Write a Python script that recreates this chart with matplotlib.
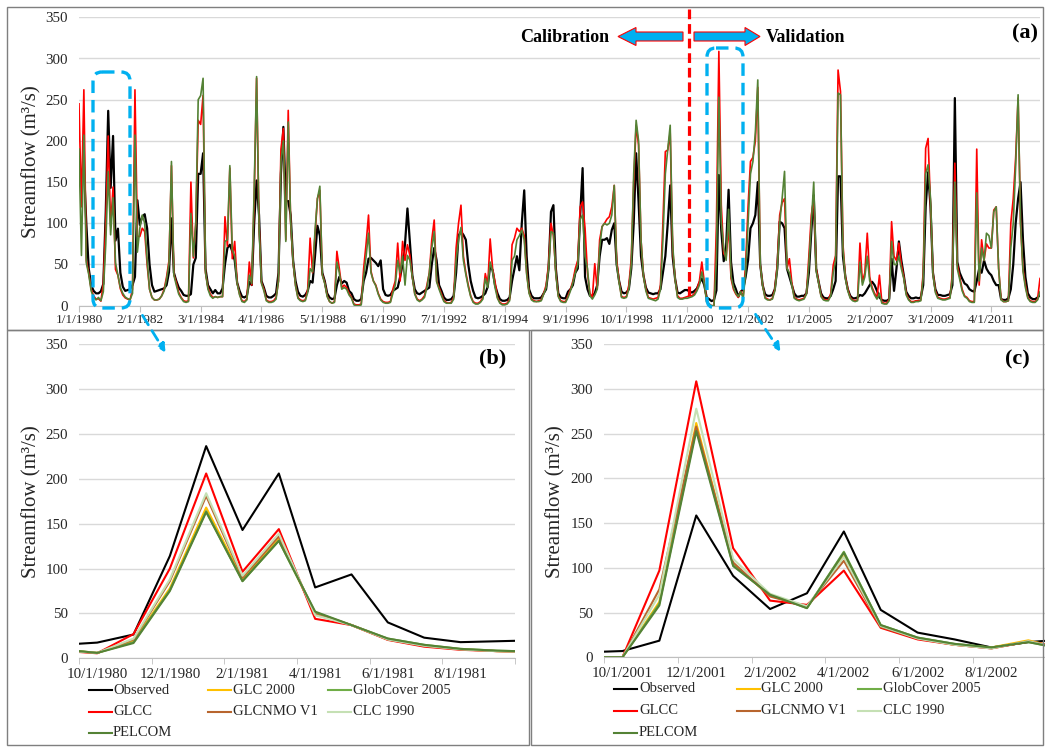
import matplotlib
matplotlib.use("Agg")
import matplotlib.pyplot as plt
import numpy as np
from matplotlib.lines import Line2D
from matplotlib.patches import FancyBboxPatch, Polygon, Rectangle, FancyArrowPatch
from matplotlib.transforms import Affine2D

plt.rcParams['font.family'] = ['Liberation Serif', 'DejaVu Serif']
plt.rcParams['lines.scale_dashes'] = False

# ---------------- data ----------------
# Panel (a): monthly streamflow Jan 1980 - Dec 2012 (one row per year)
observed = [
    165, 155, 170, 100, 45, 25, 18, 15, 15, 17.5, 26.5, 114,
    236.5, 143, 206, 79, 93.5, 40, 23, 18, 19, 20, 25, 35,
    128, 98, 108, 111, 94, 50, 25, 17, 18, 19, 20, 21,
    25, 41, 106, 40, 30, 22, 18, 13, 12, 12, 14, 50,
    58, 160, 160, 185, 45, 25, 20, 15, 19, 15, 15, 21,
    50, 70, 74, 66, 55, 28, 18, 11, 10, 12, 29, 25,
    100, 152, 110, 30, 22, 12, 10, 10, 12, 15, 40, 160,
    217, 127, 127, 110, 55, 30, 17, 12, 11, 13, 18, 30,
    28, 60, 97, 85, 40, 30, 15, 10, 8, 9, 25, 35,
    27, 30, 28, 18, 15, 8, 6, 6, 8, 30, 40, 57,
    58, 55, 52, 48, 55, 20, 13, 12, 13, 18, 20, 22,
    35, 50, 75, 118, 78, 37, 20, 15, 14, 16, 18, 20,
    22, 50, 70, 55, 25, 18, 10, 7, 7, 8, 12, 40,
    85, 90, 86, 80, 50, 30, 18, 10, 9, 10, 12, 15,
    23, 49, 43, 25, 15, 8, 6, 6, 7, 10, 30, 45,
    60, 43, 100, 140, 60, 20, 12, 9, 9, 9, 10, 15,
    20, 45, 114, 122, 45, 15, 10, 9, 9, 17, 20, 25,
    40, 45, 110, 167, 35, 20, 12, 12, 15, 25, 60, 80,
    80, 82, 75, 92, 100, 50, 30, 17, 15, 16, 20, 45,
    100, 185, 126, 60, 37, 22, 16, 15, 14, 15, 15, 20,
    40, 60, 100, 146, 60, 33, 16, 15, 17, 19, 19, 17,
    16, 18, 21, 28, 33, 25, 10, 8, 5.6, 7, 18.6, 158.6,
    91, 54, 71.6, 140.7, 53, 27.6, 20, 11, 17, 20, 35, 55,
    94, 100, 110, 150, 50, 25, 14, 12, 12, 13, 20, 45,
    102, 100, 94, 45, 35, 25, 15, 11, 11, 12, 12, 15,
    40, 90, 134, 45, 29, 15, 10, 9, 9, 12, 20, 30,
    157, 157, 60, 35, 20, 12, 9, 9, 10, 13, 12, 15,
    20, 25, 29, 25, 18, 10, 7, 6, 6, 8, 57, 18,
    45, 78, 55, 37, 17, 12, 9, 9, 10, 9, 10, 25,
    120, 162, 120, 40, 20, 13, 13, 12, 12, 13, 14, 25,
    252, 53, 40, 33, 27, 25, 20, 18, 17, 30, 45, 40,
    55, 45, 40, 37, 30, 25, 25, 8, 7, 7, 9, 20,
    50, 100, 130, 150, 80, 35, 15, 10, 8, 8, 10, 13,
]
glcc = [
    245, 120, 262, 55, 40, 20, 12, 8, 8.5, 5.6, 27, 100,
    206, 96.5, 144, 44, 37, 20.5, 13, 9.5, 8, 7, 20, 262,
    84, 84, 94, 90, 50, 20, 10, 7, 7, 8, 12, 20,
    35, 55, 170, 38, 28, 16, 10, 6, 5, 6, 150, 58,
    100, 225, 220, 255, 40, 22, 14, 10, 11, 10, 11, 11,
    108, 72, 167, 57, 78, 28, 14, 6, 5, 8, 53, 25,
    130, 276, 100, 28, 20, 7, 5, 5, 6, 10, 30, 190,
    215, 80, 237, 100, 53, 25, 10, 7, 6, 7, 20, 82,
    40, 85, 130, 140, 38, 28, 12, 5, 3, 5, 66, 45,
    22, 25, 22, 15, 10, 2, 1, 1, 2, 45, 75, 110,
    42, 30, 25, 15, 8, 5, 4, 4, 5, 20, 30, 76,
    30, 78, 55, 74, 61, 35, 15, 8, 6, 8, 12, 25,
    40, 80, 104, 30, 22, 14, 6, 4, 3, 4, 10, 70,
    100, 122, 60, 40, 25, 12, 5, 3, 3, 5, 10, 39,
    25, 81, 45, 29, 10, 4, 2, 2, 3, 8, 74, 82,
    94, 90, 94, 85, 40, 16, 8, 6, 5, 6, 7, 15,
    25, 50, 100, 85, 40, 12, 6, 5, 5, 12, 20, 30,
    45, 55, 120, 126, 94, 40, 15, 10, 51, 20, 80, 96,
    100, 105, 108, 120, 146, 55, 30, 11, 10, 11, 25, 57,
    150, 219, 195, 80, 37, 20, 10, 9, 8, 9, 10, 25,
    100, 187, 189, 210, 70, 33, 12, 9, 9, 10, 11, 12,
    12, 15, 20, 30, 53, 29, 5, 2, 0, 0, 97, 308.6,
    122, 63.4, 58.6, 97, 33, 20, 14, 10, 17.5, 11, 50, 120,
    175, 180, 200, 265, 50, 25, 10, 8, 7, 9, 20, 50,
    110, 125, 130, 45, 57, 28, 10, 8, 7, 8, 9, 15,
    60, 110, 130, 45, 29, 12, 8, 7, 7, 15, 49, 61,
    286, 260, 75, 35, 20, 10, 7, 6, 7, 76, 29, 40,
    88, 35, 22, 15, 10, 37, 4, 3, 3, 8, 102, 60,
    55, 76, 50, 35, 15, 8, 5, 5, 6, 6, 7, 40,
    191, 203, 120, 40, 18, 10, 9, 8, 8, 9, 10, 40,
    173, 50, 35, 20, 12, 10, 6, 5, 5, 190, 25, 80,
    55, 75, 70, 70, 116, 120, 45, 8, 5, 5, 6, 100,
    130, 180, 252, 100, 45, 25, 10, 6, 5, 5, 8, 33,
]
pelcom = [
    190, 61, 207, 52, 38, 18, 10, 7, 10, 6, 17, 75,
    163, 86, 131, 52, 37, 22, 15, 10.5, 8.5, 7.5, 15, 207,
    65, 94, 110, 100, 55, 20, 10, 7, 7, 8, 12, 18,
    32, 51, 175, 37, 25, 14, 9, 5, 4, 5, 112, 60,
    100, 250, 255, 276, 40, 20, 12, 9, 11, 10, 11, 11,
    78, 80, 170, 68, 60, 27, 13, 5, 4, 7, 37, 27,
    140, 278, 95, 27, 18, 6, 4, 4, 5, 8, 30, 175,
    200, 78, 223, 102, 53, 24, 9, 6, 5, 6, 16, 45,
    41, 90, 130, 145, 37, 27, 11, 5, 3, 4, 53, 40,
    20, 22, 20, 13, 9, 1, 0, 0, 1, 35, 60, 88,
    40, 30, 24, 14, 7, 4, 3, 3, 4, 15, 25, 55,
    40, 60, 25, 61, 55, 35, 14, 7, 5, 7, 10, 22,
    40, 70, 90, 29, 20, 12, 5, 3, 3, 3, 8, 55,
    80, 95, 55, 38, 23, 11, 4, 2, 2, 4, 8, 33,
    22, 53, 42, 22, 9, 3, 1, 1, 2, 6, 55, 60,
    80, 85, 92, 80, 38, 15, 7, 5, 5, 5, 6, 14,
    22, 45, 90, 88, 38, 11, 5, 4, 4, 10, 18, 28,
    40, 50, 105, 110, 60, 45, 12, 8, 13, 20, 70, 96,
    100, 98, 100, 110, 146, 50, 28, 10, 9, 10, 20, 50,
    160, 225, 200, 80, 36, 18, 9, 8, 7, 6, 8, 20,
    80, 160, 190, 219, 75, 32, 10, 8, 8, 9, 9, 10,
    11, 13, 18, 25, 41, 27, 4, 2, 0, 0, 58, 253,
    102, 70, 55, 117, 36, 22, 15, 11, 17, 9, 40, 100,
    160, 175, 210, 274, 50, 24, 9, 7, 7, 8, 18, 45,
    100, 130, 163, 45, 40, 25, 9, 7, 6, 7, 8, 14,
    50, 100, 150, 42, 28, 11, 7, 6, 6, 12, 40, 55,
    258, 256, 70, 33, 18, 9, 6, 5, 6, 53, 25, 35,
    60, 30, 20, 13, 8, 15, 3, 2, 2, 6, 78, 50,
    50, 60, 45, 33, 13, 7, 4, 4, 5, 5, 6, 35,
    160, 171, 130, 38, 16, 9, 8, 7, 7, 8, 9, 35,
    150, 45, 32, 18, 11, 9, 5, 4, 4, 137, 30, 70,
    55, 88, 85, 70, 114, 120, 45, 7, 5, 5, 6, 70,
    100, 170, 256, 100, 42, 22, 9, 5, 4, 4, 7, 17,
]
a_tick_labels = ["1/1/1980", "2/1/1982", "3/1/1984", "4/1/1986", "5/1/1988",
                 "6/1/1990", "7/1/1992", "8/1/1994", "9/1/1996", "10/1/1998",
                 "11/1/2000", "12/1/2002", "1/1/2005", "2/1/2007", "3/1/2009",
                 "4/1/2011"]

# Panels (b) and (c): Sep of year 1 .. Oct of year 2 (14 months, axis shows Oct-Sep)
b_glc2000 = [9.5, 6, 19, 78, 168, 88, 133, 50, 37, 21, 14, 10, 8, 7]
b_globcover = [10, 6, 18, 76, 164, 86, 131, 51, 37, 22, 15, 10.5, 8.5, 7.5]
b_glcnmo = [9, 6, 21, 86, 181, 90, 136, 49, 37, 21, 14, 10, 8, 7]
b_clc = [9, 6, 22, 88, 184, 92, 139, 48, 37, 21, 14, 10, 8, 7]
b_tick_labels = ["10/1/1980", "12/1/1980", "2/1/1981", "4/1/1981", "6/1/1981", "8/1/1981"]

c_glc2000 = [0, 0, 62, 262, 104, 69, 56, 113, 35, 21, 14, 11, 19, 9]
c_globcover = [0, 0, 60, 256, 103, 70, 55, 118, 36, 22, 15, 11, 17, 9]
c_glcnmo = [0, 0, 76, 258, 106, 68, 57, 108, 34, 21, 14, 10, 18, 9]
c_clc = [0, 0, 70, 278, 110, 71, 57, 112, 35, 21, 14, 10, 18, 9]
c_tick_labels = ["10/1/2001", "12/1/2001", "2/1/2002", "4/1/2002", "6/1/2002", "8/1/2002"]

series_names = ["Observed", "GLC 2000", "GlobCover 2005", "GLCC", "GLCNMO V1", "CLC 1990", "PELCOM"]
colors = {"Observed": "#000000", "GLC 2000": "#FFC000", "GlobCover 2005": "#70AD47",
          "GLCC": "#FF0000", "GLCNMO V1": "#B8652E", "CLC 1990": "#C5E0B4",
          "PELCOM": "#548235"}

B0, C0 = 8, 260   # start month index of zoom windows in the monthly record

# ---------------- figure ----------------
W, H = 1045, 747
fig = plt.figure(figsize=(W / 100, H / 100), dpi=100)
pix = Affine2D().scale(1.0 / W, -1.0 / H).translate(0, 1) + fig.transFigure


def box(l, t, r, b):
    return [l / W, 1 - b / H, (r - l) / W, (b - t) / H]


TXT = '#262626'


def style(ax):
    ax.set_ylim(0, 350)
    ax.set_yticks(range(0, 351, 50))
    ax.grid(axis='y', color='#D9D9D9', lw=1.0)
    ax.set_axisbelow(True)
    for s in ['left', 'right', 'top']:
        ax.spines[s].set_visible(False)
    ax.spines['bottom'].set_color('#BFBFBF')
    ax.tick_params(axis='y', length=0, labelsize=10.8, pad=8, labelcolor=TXT)
    ax.patch.set_alpha(0)


# panel (a)
axa = fig.add_axes(box(79, 17.3, 1040, 305.7))
style(axa)
months = np.arange(len(observed))
axa.plot(months, observed, color=colors["Observed"], lw=1.6, zorder=3)
axa.plot(months, glcc, color=colors["GLCC"], lw=1.2, zorder=3)
axa.plot(months, pelcom, color=colors["PELCOM"], lw=1.2, zorder=3)
axa.set_xlim(0, len(observed) - 1)
axa.set_xticks(np.arange(0, 25 * len(a_tick_labels), 25))
axa.set_xticklabels(a_tick_labels)
axa.tick_params(axis='x', length=4, color='#BFBFBF', labelsize=9.5, pad=2, labelcolor=TXT)


def zoom_panel(rect, obs, sims):
    ax = fig.add_axes(rect)
    style(ax)
    x = np.arange(-1, 13)
    for name in series_names:
        ax.plot(x, sims[name] if name != "Observed" else obs, color=colors[name], lw=1.5, zorder=3)
    ax.set_xlim(-0.5, 11.5)
    ax.set_xticks(np.arange(0, 12, 2))
    ax.set_xticks(np.arange(-0.5, 12, 2), minor=True)
    ax.tick_params(axis='x', which='major', length=0, labelsize=10.8, pad=7, labelcolor=TXT)
    ax.tick_params(axis='x', which='minor', length=4, color='#BFBFBF')
    return ax


bs = slice(B0, B0 + 14)
cs = slice(C0, C0 + 14)
axb = zoom_panel(box(79, 344.3, 515, 658.3), observed[bs],
                 {"GLC 2000": b_glc2000, "GlobCover 2005": b_globcover, "GLCC": glcc[bs],
                  "GLCNMO V1": b_glcnmo, "CLC 1990": b_clc, "PELCOM": pelcom[bs]})
axb.set_xticklabels(b_tick_labels)
axc = zoom_panel(box(604, 344.3, 1046.8, 657.3), observed[cs],
                 {"GLC 2000": c_glc2000, "GlobCover 2005": c_globcover, "GLCC": glcc[cs],
                  "GLCNMO V1": c_glcnmo, "CLC 1990": c_clc, "PELCOM": pelcom[cs]})
axc.set_xticklabels(c_tick_labels)

# y labels
for (px, py) in [(32, 162), (32, 502), (556, 502)]:
    fig.text(px / W, 1 - py / H, "Streamflow (m³/s)", rotation=90, ha='center', va='center',
             fontsize=15, color=TXT)

# panel letters
for (px, py, s) in [(1025, 33, "(a)"), (493, 358, "(b)"), (1017, 359, "(c)")]:
    fig.text(px / W, 1 - py / H, s, ha='center', va='center', fontsize=16, fontweight='bold')


# legends (manual, row-wise order)
def legend(xlines, xtexts, ys):
    for i, name in enumerate(series_names):
        r, c = divmod(i, 3)
        y = ys[r]
        fig.add_artist(Line2D([xlines[c], xlines[c] + 23], [y, y], transform=pix,
                              color=colors[name], lw=1.5))
        fig.text(xtexts[c] / W, 1 - y / H, name, ha='left', va='center', fontsize=10.5, color=TXT)


legend([89, 208, 328], [113, 233, 353], [690, 711.5, 733])
legend([614, 737, 858], [639, 761, 883], [689, 711, 733])

# frames
for (l, t, r, b) in [(7, 7, 1043, 330), (7, 330, 529, 745), (531, 330, 1043, 745)]:
    fig.add_artist(Rectangle((l, t), r - l, b - t, transform=pix, fill=False,
                             ec='#7F7F7F', lw=1.0))

# calibration / validation annotations
fig.add_artist(Line2D([689, 689], [9, 300], transform=pix, color='#FF0000', lw=2.3,
                      dashes=(7, 3.5), zorder=5))
left_arrow = [(618, 36.5), (636, 27.5), (636, 32), (683, 32), (683, 41), (636, 41), (636, 45.5)]
right_arrow = [(760, 36.5), (745, 27.5), (745, 32), (694, 32), (694, 41), (745, 41), (745, 45.5)]
for pts in (left_arrow, right_arrow):
    fig.add_artist(Polygon(pts, closed=True, transform=pix, fc='#00B0F0', ec='#FF0000', lw=0.8))
fig.text(565 / W, 1 - 37 / H, "Calibration", ha='center', va='center', fontsize=13, fontweight='bold')
fig.text(806 / W, 1 - 37 / H, "Validation", ha='center', va='center', fontsize=13, fontweight='bold')

# blue dashed zoom boxes and arrows
for (l, t, r, b) in [(93, 72, 130, 308), (707, 48, 743, 308)]:
    fig.add_artist(FancyBboxPatch((l, t), r - l, b - t, boxstyle="round,pad=0,rounding_size=9",
                                  transform=pix, fill=False, ec='#00B0F0', lw=2.4,
                                  linestyle=(0, (9, 5)), zorder=6))
for (p0, p1) in [((141, 313), (167, 355)), ((754, 312), (782, 354))]:
    fig.add_artist(FancyArrowPatch(p0, p1, transform=pix, arrowstyle='-|>', mutation_scale=12,
                                   color='#00B0F0', lw=2.0, linestyle=(0, (8, 5)), zorder=6))

fig.savefig("out.png", dpi=100)
